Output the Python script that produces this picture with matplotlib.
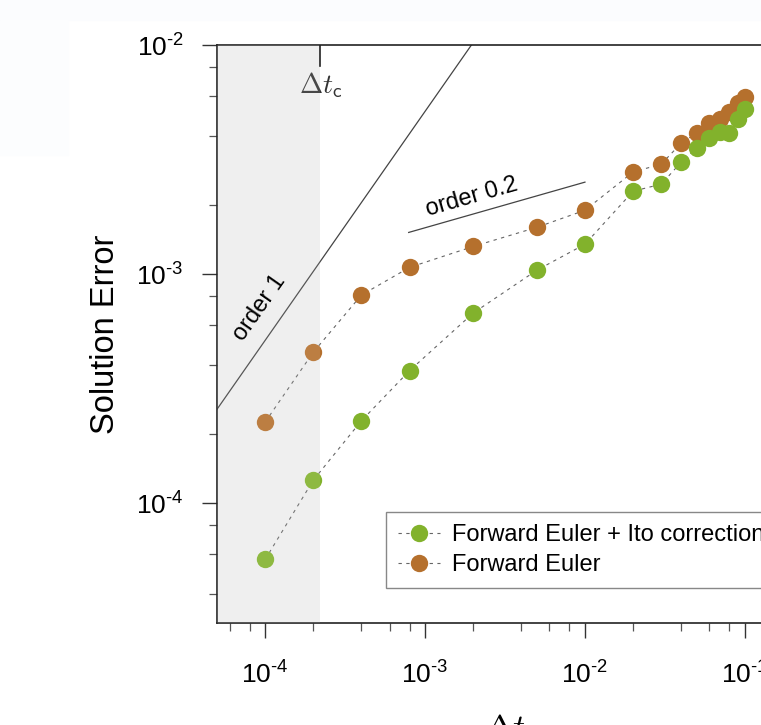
import numpy as np
import matplotlib
matplotlib.use('Agg')
import matplotlib.pyplot as plt
from matplotlib.ticker import LogLocator, NullFormatter, FuncFormatter
from matplotlib.patches import Rectangle

plt.rcParams['font.family'] = 'Liberation Sans'
plt.rcParams['mathtext.fontset'] = 'custom'
plt.rcParams['mathtext.rm'] = 'Liberation Sans'
plt.rcParams['mathtext.it'] = 'Liberation Sans:italic'
plt.rcParams['mathtext.bf'] = 'Liberation Sans:bold'

# datos
dt = [1e-4, 2e-4, 4e-4, 8e-4, 2e-3, 5e-3, 1e-2, 2e-2, 3e-2, 4e-2,
      5e-2, 6e-2, 7e-2, 8e-2, 9e-2, 1e-1]
err_euler = [2.26e-4, 4.56e-4, 8.1e-4, 1.07e-3, 1.32e-3, 1.60e-3, 1.90e-3,
             2.79e-3, 3.02e-3, 3.73e-3, 4.13e-3, 4.56e-3, 4.75e-3, 5.10e-3,
             5.58e-3, 5.93e-3]
err_ito = [5.68e-5, 1.26e-4, 2.29e-4, 3.79e-4, 6.76e-4, 1.04e-3, 1.35e-3,
           2.30e-3, 2.47e-3, 3.08e-3, 3.55e-3, 3.92e-3, 4.17e-3, 4.13e-3,
           4.75e-3, 5.26e-3]

dt_c = 2.21e-4

# lineas guia
order1_x = [5e-5, 1.95e-3]
order1_y = [2.57e-4, 1.0e-2]
order02_x = [7.9e-4, 1e-2]
order02_y = [1.52e-3, 2.52e-3]

c_euler = '#b5702d'
c_ito = '#82b22c'

fig = plt.figure(figsize=(7.61, 7.25), dpi=100)
# fondo apenas tenido (recorte de la pagina)
fig.patches.append(Rectangle((0, 1 - 20/725), 1, 20/725, transform=fig.transFigure,
                             color='#fbfcfe', zorder=-10))
fig.patches.append(Rectangle((0, 1 - 155/725), 68/761, 135/725, transform=fig.transFigure,
                             color='#fcfdfe', zorder=-10))

ax = fig.add_axes([217/761, 102/725, 576/761, 578/725])
ax.patch.set_alpha(0)

ax.set_xscale('log')
ax.set_yscale('log')
ax.set_xlim(5e-5, 2e-1)
ax.set_ylim(3e-5, 1e-2)

# zona sombreada
ax.axvspan(5e-5, dt_c, color='#eeeeee', zorder=0, lw=0)
ax.axvspan(5e-5, dt_c, color='white', alpha=0.1, zorder=4, lw=0)
ax.axvline(dt_c, ymin=1 - 21/578, ymax=1, color='#222222', lw=1.2, zorder=6)
ax.text(dt_c, 6.7e-3, r'$\Delta t_{\mathsf{c}}$', math_fontfamily='cm',
        fontsize=20, color='#333333', ha='center', va='center')

ax.plot(order1_x, order1_y, color='#444444', lw=0.9, zorder=2)
ax.plot(order02_x, order02_y, color='#444444', lw=0.9, zorder=2)
ax.text(9.2e-5, 7.1e-4, 'order 1', rotation=55, fontsize=17,
        ha='center', va='center', rotation_mode='anchor', zorder=5)
ax.text(1.97e-3, 2.17e-3, 'order 0.2', rotation=16, fontsize=17,
        ha='center', va='center', rotation_mode='anchor', zorder=5)

dash = (0, (3, 4))
l_eu, = ax.plot(dt, err_euler, linestyle=dash, color='#666666', lw=0.8,
                marker='o', markersize=12.5, markerfacecolor=c_euler,
                markeredgewidth=0, zorder=3, label='Forward Euler')
l_ito, = ax.plot(dt, err_ito, linestyle=dash, color='#666666', lw=0.8,
                 marker='o', markersize=12.5, markerfacecolor=c_ito,
                 markeredgewidth=0, zorder=3, label='Forward Euler + Ito correction')

# ejes y ticks
fmt = FuncFormatter(lambda v, p: r'$10^{\text{%d}}$' % int(round(np.log10(v))))
for axis in (ax.xaxis, ax.yaxis):
    axis.set_major_locator(LogLocator(base=10, numticks=20))
    axis.set_minor_locator(LogLocator(base=10, subs=(2, 4, 6, 8), numticks=20))
    axis.set_minor_formatter(NullFormatter())
    axis.set_major_formatter(fmt)

ax.tick_params(which='major', direction='out', length=11, width=1.0,
               color='#333333', labelsize=19)
ax.tick_params(which='minor', direction='out', length=6, width=0.9,
               color='#555555')
ax.tick_params(axis='x', which='major', pad=17)
ax.tick_params(axis='y', which='major', pad=13)
for s in ax.spines.values():
    s.set_linewidth(1.2)
    s.set_color('#222222')

ax.set_ylabel('Solution Error', fontsize=23.5, labelpad=11)
ax.set_xlabel(r'$\Delta t$', math_fontfamily='cm', fontsize=24, labelpad=18)

leg = ax.legend(handles=[l_ito, l_eu], loc='lower right',
                bbox_to_anchor=(0.9705, 35/578), borderaxespad=0, fontsize=17,
                fancybox=False, framealpha=1, edgecolor='#888888',
                handlelength=1.8, handletextpad=0.5, labelspacing=0.35,
                borderpad=0.5)
leg.get_frame().set_linewidth(1.0)

plt.savefig('out.png', dpi=100)
